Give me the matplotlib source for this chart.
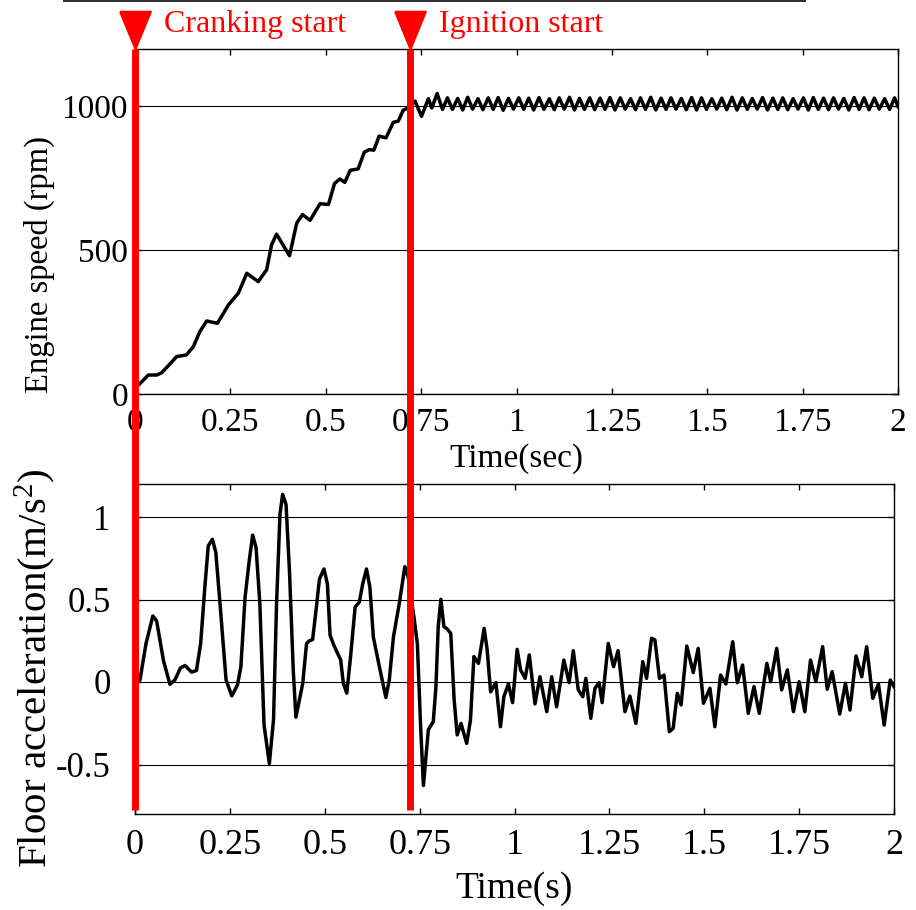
import numpy as np
import matplotlib
matplotlib.use("Agg")
import matplotlib.pyplot as plt
from matplotlib.lines import Line2D
from matplotlib.transforms import blended_transform_factory

plt.rcParams['font.family'] = ['Liberation Serif', 'DejaVu Serif']
plt.rcParams['mathtext.fontset'] = 'custom'
plt.rcParams['mathtext.rm'] = 'Liberation Serif'

# ---- engine speed, run-up ----
ramp_t = [0.0, 0.009, 0.035, 0.057, 0.070, 0.092, 0.109, 0.135, 0.153, 0.170,
          0.188, 0.216, 0.245, 0.271, 0.293, 0.323, 0.345, 0.358, 0.371, 0.405,
          0.424, 0.439, 0.459, 0.485, 0.507, 0.523, 0.537, 0.550, 0.564, 0.585,
          0.601, 0.614, 0.626, 0.640, 0.658, 0.677, 0.690, 0.703, 0.716, 0.734,
          0.751, 0.769, 0.778, 0.792, 0.806]
ramp_rpm = [20, 31, 66, 66, 74, 105, 130, 136, 165, 217,
            254, 246, 310, 351, 420, 391, 432, 519, 556, 481,
            595, 624, 604, 662, 659, 732, 748, 736, 778, 783,
            841, 850, 848, 897, 891, 945, 949, 987, 995, 1019,
            966, 1027, 995, 1045, 990]

# ---- engine speed, idle ripple: peaks and troughs ----
peak_t = [0.819, 0.846, 0.872, 0.899, 0.926, 0.952, 0.979, 1.006, 1.032,
          1.059, 1.086, 1.112, 1.139, 1.165, 1.192, 1.219, 1.245, 1.272,
          1.299, 1.325, 1.352, 1.379, 1.405, 1.432, 1.459, 1.485, 1.512,
          1.538, 1.565, 1.592, 1.618, 1.645, 1.672, 1.698, 1.725, 1.752,
          1.778, 1.805, 1.831, 1.858, 1.885, 1.911, 1.938, 1.965, 1.991]
peak_rpm = [1030, 1028, 1032, 1027, 1030, 1031, 1028, 1030, 1029,
            1031, 1027, 1030, 1032, 1028, 1030, 1029, 1031, 1030,
            1027, 1030, 1032, 1029, 1030, 1028, 1031, 1030, 1027,
            1029, 1032, 1030, 1028, 1031, 1029, 1030, 1027, 1030,
            1031, 1029, 1030, 1028, 1031, 1030, 1029, 1027, 1030]
trough_t = [0.832, 0.859, 0.885, 0.912, 0.939, 0.965, 0.992, 1.019, 1.045,
            1.072, 1.099, 1.125, 1.152, 1.178, 1.205, 1.232, 1.258, 1.285,
            1.312, 1.338, 1.365, 1.392, 1.418, 1.445, 1.472, 1.498, 1.525,
            1.551, 1.578, 1.605, 1.631, 1.658, 1.685, 1.711, 1.738, 1.765,
            1.791, 1.818, 1.844, 1.871, 1.898, 1.924, 1.951, 1.978, 2.0]
trough_rpm = [990, 988, 991, 989, 990, 987, 991, 990, 988,
              990, 989, 991, 988, 990, 989, 990, 988, 991,
              989, 990, 988, 990, 991, 989, 988, 990, 991,
              989, 988, 990, 991, 988, 990, 989, 991, 988,
              990, 989, 991, 988, 990, 989, 991, 990, 1000]

# ---- floor acceleration ----
acc_t = [0.0, 0.013, 0.029, 0.047, 0.057, 0.075, 0.092, 0.105, 0.120, 0.132,
         0.149, 0.162, 0.173, 0.184, 0.193, 0.204, 0.213, 0.224, 0.240, 0.255,
         0.270, 0.279, 0.290, 0.301, 0.310, 0.319, 0.329, 0.340, 0.354, 0.365,
         0.373, 0.382, 0.389, 0.398, 0.407, 0.417, 0.424, 0.435, 0.442, 0.452,
         0.459, 0.468, 0.477, 0.486, 0.498, 0.507, 0.514, 0.524, 0.542, 0.549,
         0.558, 0.568, 0.580, 0.591, 0.600, 0.610, 0.619, 0.628, 0.644, 0.661,
         0.670, 0.681, 0.697, 0.711, 0.720, 0.735, 0.744, 0.753, 0.760, 0.773,
         0.786, 0.793, 0.799, 0.806, 0.814, 0.821, 0.832, 0.841, 0.849, 0.859,
         0.874, 0.884, 0.893, 0.905, 0.920, 0.928, 0.937, 0.951, 0.963, 0.972,
         0.984, 0.995, 1.007, 1.016, 1.028, 1.039, 1.054, 1.067, 1.085, 1.098,
         1.111, 1.130, 1.144, 1.155, 1.168, 1.180, 1.188, 1.201, 1.212, 1.223,
         1.231, 1.247, 1.261, 1.273, 1.291, 1.304, 1.320, 1.338, 1.348, 1.361,
         1.370, 1.382, 1.394, 1.408, 1.418, 1.429, 1.439, 1.454, 1.471, 1.484,
         1.498, 1.515, 1.528, 1.543, 1.557, 1.575, 1.587, 1.601, 1.616, 1.631,
         1.645, 1.665, 1.675, 1.691, 1.704, 1.719, 1.735, 1.750, 1.765, 1.780,
         1.794, 1.812, 1.824, 1.837, 1.857, 1.872, 1.884, 1.900, 1.915, 1.928,
         1.944, 1.959, 1.974, 1.990, 2.000]
acc = [0.0, 0.012, 0.233, 0.400, 0.370, 0.130, -0.014, 0.012, 0.086, 0.100,
       0.060, 0.070, 0.233, 0.574, 0.825, 0.865, 0.785, 0.474, 0.012, -0.084,
       -0.018, 0.092, 0.514, 0.735, 0.890, 0.815, 0.474, -0.260, -0.494, -0.229,
       0.474, 1.016, 1.137, 1.076, 0.675, 0.072, -0.213, -0.088, -0.008, 0.233,
       0.249, 0.257, 0.434, 0.624, 0.685, 0.594, 0.283, 0.223, 0.133, -0.008,
       -0.068, 0.153, 0.454, 0.484, 0.594, 0.685, 0.574, 0.273, 0.092, -0.094,
       0.012, 0.273, 0.484, 0.699, 0.635, 0.394, 0.233, -0.289, -0.627, -0.289,
       -0.240, -0.028, 0.335, 0.501, 0.335, 0.325, 0.295, -0.109, -0.321, -0.251,
       -0.372, -0.230, 0.154, 0.113, 0.325, 0.194, -0.059, -0.004, -0.271, -0.089,
       -0.012, -0.125, 0.198, 0.073, 0.022, 0.164, -0.133, 0.032, -0.180, 0.032,
       -0.150, 0.133, -0.004, 0.190, -0.048, -0.089, 0.022, -0.220, -0.038, -0.004,
       -0.125, 0.234, 0.093, 0.190, -0.180, -0.085, -0.251, 0.123, 0.022, 0.265,
       0.255, 0.022, 0.042, -0.301, -0.281, -0.069, -0.139, 0.218, 0.057, 0.204,
       -0.129, -0.038, -0.271, 0.042, -0.012, 0.244, -0.004, 0.103, -0.190, -0.028,
       -0.190, 0.113, 0.002, 0.204, -0.048, 0.073, -0.180, 0.002, -0.180, 0.133,
       0.002, 0.214, -0.044, 0.063, -0.194, -0.008, -0.170, 0.158, 0.032, 0.214,
       -0.099, -0.012, -0.261, 0.012, -0.028]

event_t = [0.0, 0.721]
event_labels = ['Cranking start', 'Ignition start']

xticks = [0, 0.25, 0.5, 0.75, 1, 1.25, 1.5, 1.75, 2]
xticklabels = ['0', '0.25', '0.5', '0.75', '1', '1.25', '1.5', '1.75', '2']

# merge ramp + ripple into one engine speed trace
idle_t = np.concatenate([peak_t, trough_t])
idle_rpm = np.concatenate([peak_rpm, trough_rpm])
order = np.argsort(idle_t)
speed_t = np.concatenate([ramp_t, idle_t[order]])
speed = np.concatenate([ramp_rpm, idle_rpm[order]])

W, H = 916, 910
fig = plt.figure(figsize=(W / 100, H / 100), dpi=100)
ax1 = fig.add_axes([135 / W, 1 - 394 / H, 763 / W, 345 / H])
ax2 = fig.add_axes([135 / W, 1 - 814 / H, 759 / W, 330 / H])

for ax in (ax1, ax2):
    ax.set_xlim(0, 2)
    ax.set_xticks(xticks)
    ax.set_xticklabels(xticklabels)
    ax.tick_params(direction='in', top=True, right=True, length=4, width=1)
    ax.yaxis.grid(True, color='k', lw=0.8)
    for s in ax.spines.values():
        s.set_linewidth(1.0)

ax1.plot(speed_t, speed, color='k', lw=2.5, solid_joinstyle='round')
ax1.set_ylim(0, 1200)
ax1.set_yticks([0, 500, 1000])
ax1.set_yticklabels(['0', '500', '1000'])
ax1.tick_params(axis='x', labelsize=24, pad=10)
ax1.tick_params(axis='y', labelsize=24, pad=5)
ax1.set_xlabel('Time(sec)', fontsize=24)
ax1.xaxis.set_label_coords(0.5, -0.186)
ax1.xaxis.label.set_va('center')
ax1.set_ylabel('Engine speed (rpm)', fontsize=23.5)
ax1.yaxis.set_label_coords(-0.125, 0.374)
ax1.yaxis.label.set_va('center')

ax2.plot(acc_t, acc, color='k', lw=2.5, solid_joinstyle='round')
ax2.set_ylim(-0.8, 1.2)
ax2.set_yticks([-0.5, 0, 0.5, 1])
ax2.set_yticklabels(['-0.5', '0', '0.5', '1'])
ax2.tick_params(axis='x', labelsize=26, pad=11)
ax2.tick_params(axis='y', labelsize=25, pad=17.5)
ax2.set_xlabel('Time(s)', fontsize=27)
ax2.xaxis.set_label_coords(0.5, -0.227)
ax2.xaxis.label.set_va('center')
ax2.set_ylabel('Floor acceleration(m/s$\\mathregular{^2}$)', fontsize=29.5)
ax2.yaxis.set_label_coords(-0.131, 0.442)
ax2.yaxis.label.set_va('center')

# red event markers running through both panels
trans = blended_transform_factory(ax1.transData, fig.transFigure)
y_top = ax1.get_position().y1
y_bot = ax2.get_position().y0 + 4 / H
tri = [(-0.41, 0.5), (0.41, 0.5), (0, -0.5), (-0.41, 0.5)]
for x0, lab in zip(event_t, event_labels):
    fig.add_artist(Line2D([x0, x0], [y_bot, y_top], transform=trans,
                          color='red', lw=5, solid_capstyle='butt'))
    fig.add_artist(Line2D([x0], [y_top + 19.5 / H], transform=trans,
                          marker=tri, ms=27, color='red', mec='red', mew=1.5))
    ax1.annotate(lab, xy=(x0, 1 - 32 / H), xycoords=trans,
                 xytext=(21, 0), textcoords='offset points',
                 color='red', fontsize=23, va='baseline', ha='left',
                 annotation_clip=False)

# clipped rule along the top edge
fig.add_artist(Line2D([64 / W, 805 / W], [1 - 0.8 / H, 1 - 0.8 / H],
                      color='#333333', lw=1.5))

fig.savefig('out.png', dpi=100)
